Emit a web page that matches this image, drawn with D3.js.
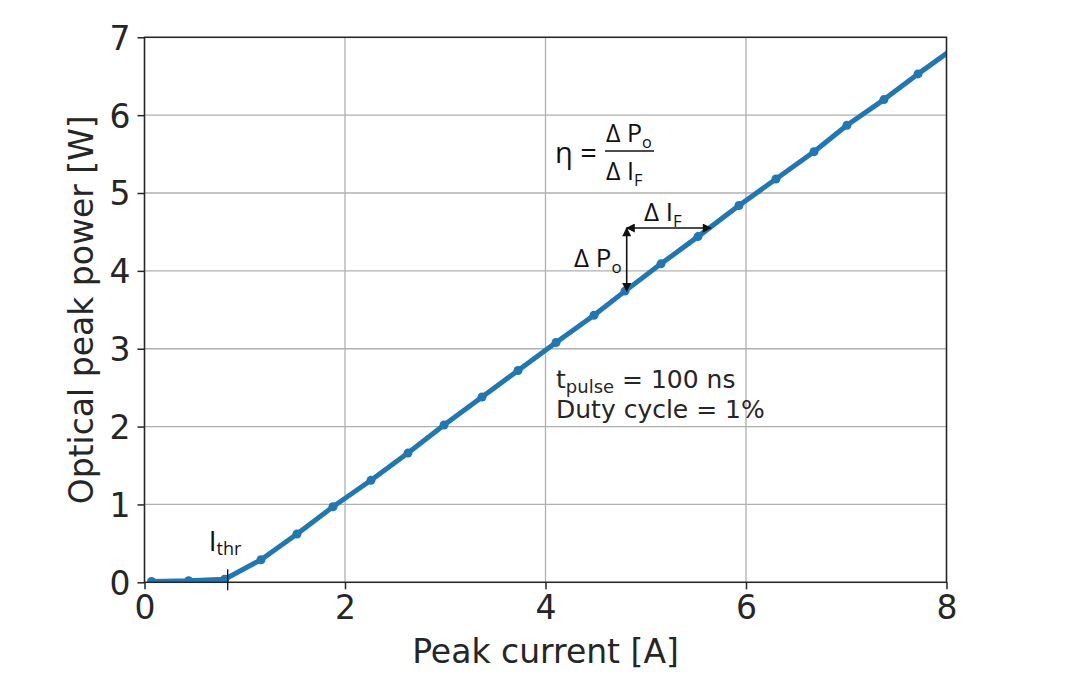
<!DOCTYPE html>
<html><head><meta charset="utf-8">
<script src="https://cdn.jsdelivr.net/npm/d3@7"></script>
<style>body{margin:0;background:#fff}svg{display:block}</style>
</head><body>
<svg id="c" width="1080" height="683"></svg>
<script>
const currentA = [0.07,0.44,0.80,1.162,1.521,1.880,2.259,2.628,2.988,3.367,3.726,4.105,4.484,4.793,5.152,5.521,5.930,6.299,6.678,7.007,7.376,7.716,8.08];
const powerW   = [0.01,0.02,0.04,0.29,0.62,0.97,1.31,1.66,2.02,2.38,2.72,3.08,3.43,3.74,4.09,4.44,4.84,5.18,5.53,5.87,6.20,6.53,6.865];
const xTicks = [0,2,4,6,8];
const yTicks = [0,1,2,3,4,5,6,7];
const ithr = 0.83;
const dPoBottom = 3.74, dPoTop = 4.55, dIfRight = 5.65;

const svg = d3.select("#c");
const L=144.5, R=946.5, T=37.3, B=582.3;
const x = d3.scaleLinear().domain([0,8]).range([L,R]);
const y = d3.scaleLinear().domain([0,7]).range([B,T]);
const font = "DejaVu Sans, sans-serif";
const font2 = "'Open Sans', 'Liberation Sans', sans-serif";

// grid
svg.append("g").selectAll("line").data(xTicks).join("line")
  .attr("x1",d=>x(d)).attr("x2",d=>x(d)).attr("y1",T).attr("y2",B)
  .attr("stroke","#b0b0b0").attr("stroke-width",1.3);
svg.append("g").selectAll("line").data(yTicks).join("line")
  .attr("x1",L).attr("x2",R).attr("y1",d=>y(d)).attr("y2",d=>y(d))
  .attr("stroke","#b0b0b0").attr("stroke-width",1.3);

// axes
const xa = svg.append("g").attr("transform",`translate(0,${B})`)
  .call(d3.axisBottom(x).tickValues(xTicks).tickFormat(d3.format("d")).tickSize(7).tickPadding(5));
const ya = svg.append("g").attr("transform",`translate(${L},0)`)
  .call(d3.axisLeft(y).tickValues(yTicks).tickFormat(d3.format("d")).tickSize(7).tickPadding(7));
[xa,ya].forEach(g=>{
  g.select(".domain").remove();
  g.selectAll(".tick line").attr("stroke","#262626").attr("stroke-width",1.5);
  g.selectAll(".tick text").attr("font-family",font).attr("font-size",33).attr("fill","#262626");
});
ya.selectAll(".tick text").attr("dy","0.36em");
xa.selectAll(".tick text").attr("dy","0.76em");

// clip
svg.append("clipPath").attr("id","clip").append("rect")
  .attr("x",L).attr("y",T).attr("width",R-L).attr("height",B-T);

const pts = currentA.map((c,i)=>[c,powerW[i]]);
const g = svg.append("g").attr("clip-path","url(#clip)");
g.append("path").datum(pts)
  .attr("d",d3.line().x(d=>x(d[0])).y(d=>y(d[1])))
  .attr("fill","none").attr("stroke","#1f77b4").attr("stroke-width",5).attr("stroke-linejoin","round");
g.selectAll("circle").data(pts).join("circle")
  .attr("cx",d=>x(d[0])).attr("cy",d=>y(d[1])).attr("r",4.5).attr("fill","#1f77b4");

// spines
svg.append("rect").attr("x",L).attr("y",T).attr("width",R-L).attr("height",B-T)
  .attr("fill","none").attr("stroke","#262626").attr("stroke-width",1.5);

// axis labels
svg.append("text").attr("x",(L+R)/2).attr("y",663).attr("text-anchor","middle")
  .attr("font-family",font).attr("font-size",33).attr("fill","#262626").text("Peak current [A]");
svg.append("text").attr("transform",`translate(93,${(T+B)/2}) rotate(-90)`).attr("text-anchor","middle")
  .attr("font-family",font).attr("font-size",33).attr("fill","#262626").text("Optical peak power [W]");

// Ith annotation
svg.append("line").attr("x1",x(ithr)).attr("x2",x(ithr)).attr("y1",B-13).attr("y2",B+8)
  .attr("stroke","#111").attr("stroke-width",1.3);
const it = svg.append("text").attr("x",x(ithr)-19).attr("y",551).attr("font-family",font2).attr("font-size",28).attr("fill","#111");
it.append("tspan").text("I");
it.append("tspan").attr("font-size",18).attr("dy",4).text("thr");

// text block
svg.append("text").attr("x",556).attr("y",388).attr("font-family",font).attr("font-size",25).attr("fill","#262626")
  .call(t=>{t.append("tspan").text("t");t.append("tspan").attr("font-size",18).attr("dy",5).text("pulse");
            t.append("tspan").attr("dy",-5).text(" = 100 ns");});
svg.append("text").attr("x",556).attr("y",418).attr("font-family",font).attr("font-size",25).attr("fill","#262626")
  .text("Duty cycle = 1%");

// arrows
const defs = svg.append("defs");
defs.append("marker").attr("id","ah").attr("viewBox","0 0 10 10").attr("refX",9).attr("refY",5)
  .attr("markerWidth",10).attr("markerHeight",9).attr("markerUnits","userSpaceOnUse").attr("orient","auto-start-reverse")
  .append("path").attr("d","M0,0 L10,5 L0,10 z").attr("fill","#111");
const ax = x(4.81);
svg.append("line").attr("x1",ax).attr("x2",ax).attr("y1",y(dPoTop)).attr("y2",y(dPoBottom))
  .attr("stroke","#111").attr("stroke-width",1.6).attr("marker-start","url(#ah)").attr("marker-end","url(#ah)");
svg.append("line").attr("x1",ax).attr("x2",x(dIfRight)).attr("y1",y(dPoTop)).attr("y2",y(dPoTop))
  .attr("stroke","#111").attr("stroke-width",1.6).attr("marker-start","url(#ah)").attr("marker-end","url(#ah)");

function delta(xp,yp,main,sub,fs){
  const t = svg.append("text").attr("x",xp).attr("y",yp).attr("font-family",font2).attr("font-size",fs).attr("fill","#111");
  t.append("tspan").text("\u0394 "+main);
  t.append("tspan").attr("font-size",fs*0.65).attr("dy",fs*0.22).text(sub);
  return t;
}
delta(644,221,"I","F",26);
delta(574,267,"P","o",26);

// equation
svg.append("text").attr("x",555).attr("y",163).attr("font-family",font2).attr("font-size",29).attr("fill","#111").text("\u03b7 =");
delta(606,142,"P","o",25);
svg.append("line").attr("x1",605).attr("x2",654).attr("y1",151).attr("y2",151).attr("stroke","#111").attr("stroke-width",1.4);
delta(606,180,"I","F",25);
</script>
</body></html>
